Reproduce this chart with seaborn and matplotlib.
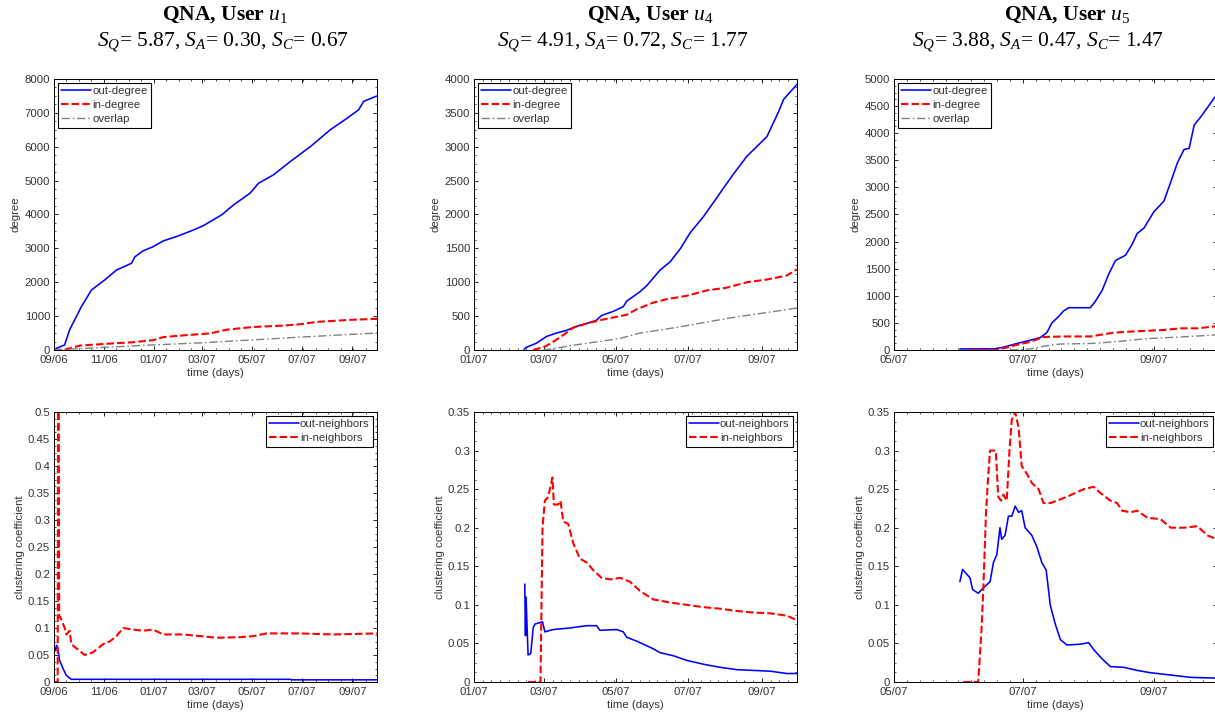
import numpy as np
import pandas as pd
import matplotlib
matplotlib.use("Agg")
import matplotlib.pyplot as plt
import matplotlib.dates as mdates
from matplotlib.ticker import MultipleLocator, AutoMinorLocator, FuncFormatter
import seaborn as sns

# ---------------- data (day offsets from each panel's start date) ----------------
U1_START = "2006-09-01"
U1_END = "2007-10-01"
U1_OUT_DAYS = [0, 13, 19, 33.5, 45.8, 62.1, 76.4, 94.8, 98.9, 109.1, 121.3, 133.6, 149.9, 170.3,
               182.6, 205.1, 219.4, 239.8, 250, 268.4, 288.8, 313.3, 337.8, 358.3, 372.5, 378.7, 395]
U1_OUT_VALS = [20, 150, 590, 1280, 1770, 2070, 2360, 2560, 2750, 2930, 3050, 3220, 3350, 3540,
               3670, 3990, 4280, 4630, 4920, 5170, 5560, 6000, 6500, 6840, 7090, 7340, 7500]
U1_IN_DAYS = [0, 13, 31.5, 62.1, 96.8, 121.3, 133.6, 162.2, 190.8, 211.2, 243.9, 280.6, 301.1, 321.5, 362.3, 395]
U1_IN_VALS = [0, 10, 130, 180, 230, 290, 380, 440, 490, 600, 680, 720, 760, 830, 890, 920]
U1_OV_DAYS = [0, 31.5, 62.1, 121.3, 178.5, 243.9, 301.1, 362.3, 395]
U1_OV_VALS = [0, 40, 80, 150, 210, 300, 380, 460, 500]
U1_CCOUT_DAYS = [0.8, 2, 3.3, 4.9, 6.9, 11, 15.1, 21.2, 288.8, 290.8, 395]
U1_CCOUT_VALS = [0.065, 0.058, 0.068, 0.06, 0.04, 0.025, 0.012, 0.005, 0.005, 0.004, 0.004]
U1_CCIN_DAYS = [0, 4.5, 5.0, 5.6, 6.3, 7.8, 13.1, 15.1, 19.2, 21.2, 25.3, 37.6, 47.8, 60, 68.2, 76.4,
                84.6, 96.8, 109.1, 121.3, 133.6, 158.1, 178.5, 198.9, 227.5, 243.9, 260.2, 301.1, 341.9, 395]
U1_CCIN_VALS = [0, 0, 0.6, 0.6, 0.12, 0.12, 0.1, 0.088, 0.095, 0.07, 0.065, 0.05, 0.055, 0.07, 0.075, 0.085,
                0.1, 0.097, 0.095, 0.097, 0.088, 0.088, 0.085, 0.082, 0.083, 0.085, 0.09, 0.09, 0.088, 0.09]

U4_START = "2007-01-01"
U4_END = "2007-10-01"
U4_OUT_DAYS = [42.3, 44.3, 52.8, 61.3, 69.7, 78.2, 86.7, 95.1, 103.6, 107.8, 117.7, 126.2, 129, 140.3,
               146, 157.3, 165.7, 174.2, 182.7, 194, 205.3, 210.9, 219.4, 230.7, 247.6, 257.5, 261.7, 273]
U4_OUT_VALS = [10, 40, 100, 200, 250, 290, 350, 390, 440, 510, 570, 640, 720, 860,
               950, 1180, 1300, 1490, 1730, 1970, 2250, 2390, 2600, 2860, 3150, 3520, 3700, 3920]
U4_IN_DAYS = [50, 59.9, 66.9, 75.4, 83.9, 95.1, 106.4, 117.7, 129, 137.5, 151.6, 162.9, 179.8, 196.8,
              213.7, 230.7, 247.6, 264.5, 273]
U4_IN_VALS = [0, 50, 120, 220, 330, 390, 440, 480, 520, 600, 700, 750, 800, 880, 920, 1000, 1040, 1100, 1190]
U4_OV_DAYS = [58.4, 66.9, 83.9, 103.6, 123.4, 140.3, 162.9, 179.8, 202.4, 222.2, 250.4, 273]
U4_OV_VALS = [0, 20, 70, 120, 170, 250, 310, 360, 430, 490, 560, 620]
U4_CCOUT_DAYS = [42.9, 43.5, 44, 45.7, 48, 50, 51.4, 55.6, 57.9, 59.9, 66.9, 81, 95.1, 103.6, 106.4,
                 120.6, 126.2, 129, 137.5, 151.6, 157.3, 168.5, 179.8, 194, 208.1, 222.2, 236.3, 250.4, 264.5, 273]
U4_CCOUT_VALS = [0.127, 0.06, 0.11, 0.035, 0.037, 0.07, 0.075, 0.077, 0.078, 0.065, 0.068, 0.07, 0.073,
                 0.073, 0.067, 0.068, 0.065, 0.058, 0.053, 0.043, 0.038, 0.034, 0.028, 0.023, 0.019,
                 0.016, 0.015, 0.014, 0.011, 0.011]
U4_CCIN_DAYS = [45.7, 56.2, 57.9, 59.9, 62.7, 64.9, 66.3, 67.5, 71.1, 73.1, 75.4, 79.6, 83.9, 89.5, 95.1,
                100.8, 107.8, 114.9, 123.4, 131.8, 140.3, 151.6, 165.7, 179.8, 194, 208.1, 222.2, 236.3,
                250.4, 264.5, 273]
U4_CCIN_VALS = [0, 0, 0.2, 0.235, 0.24, 0.255, 0.265, 0.23, 0.23, 0.235, 0.208, 0.205, 0.18, 0.16, 0.155,
                0.145, 0.135, 0.133, 0.135, 0.13, 0.118, 0.107, 0.103, 0.1, 0.097, 0.095, 0.092, 0.09,
                0.089, 0.086, 0.08]

U5_START = "2007-05-01"
U5_END = "2007-10-01"
U5_OUT_DAYS = [31.2, 47.1, 51.8, 58.2, 64.5, 69.3, 72.4, 74.8, 78, 80.3, 82.7, 93, 95.4, 98.6, 101.7,
               104.9, 107.3, 109.7, 112.8, 115.2, 118.4, 123.1, 127.9, 131.1, 134.2, 137.4, 139.8,
               142.2, 145.3, 151.7, 153]
U5_OUT_VALS = [20, 20, 50, 120, 180, 230, 320, 500, 620, 720, 780, 780, 900, 1100, 1400,
               1650, 1700, 1750, 1950, 2150, 2250, 2550, 2750, 3100, 3450, 3700, 3720,
               4150, 4300, 4650, 4720]
U5_IN_DAYS = [36, 48.7, 56.6, 64.5, 70.8, 80.3, 93, 104.1, 112, 127.9, 135.8, 143.7, 153]
U5_IN_VALS = [0, 0, 80, 150, 240, 250, 250, 320, 340, 370, 400, 400, 440]
U5_OV_DAYS = [55, 64.5, 72.4, 78.8, 93, 104.1, 120, 135.8, 153]
U5_OV_VALS = [0, 20, 80, 110, 120, 150, 210, 240, 280]
U5_CCOUT_DAYS = [31.2, 32.5, 34.4, 36, 37.2, 39.9, 42.3, 45.5, 47.1, 48.7, 50.2, 51, 52.6, 54.2, 55.8,
                 57.4, 59, 60.5, 62.1, 63.7, 65.3, 67.7, 70, 72.1, 74, 76.4, 78.8, 81.9, 88.3, 92.2,
                 94.6, 98.6, 102.5, 108.9, 115.2, 121.6, 131.1, 140.6, 153]
U5_CCOUT_VALS = [0.13, 0.146, 0.14, 0.135, 0.12, 0.115, 0.122, 0.13, 0.155, 0.165, 0.2, 0.185, 0.19,
                 0.215, 0.215, 0.228, 0.22, 0.222, 0.2, 0.195, 0.19, 0.175, 0.155, 0.145, 0.1, 0.075,
                 0.055, 0.048, 0.049, 0.051, 0.042, 0.03, 0.02, 0.019, 0.015, 0.012, 0.009, 0.006, 0.005]
U5_CCIN_DAYS = [32.8, 39.9, 41.5, 42.3, 43.6, 44.7, 45.5, 48.2, 49.4, 50.7, 51.8, 53.4, 54.7, 55.8, 57.4,
                59, 60.5, 62.9, 65.3, 68.5, 70.8, 74, 77.2, 83.5, 89.9, 94.6, 97.8, 102.5, 105.7, 108.1,
                112, 115.2, 120, 126.3, 131.1, 137.4, 143.7, 148.5, 153]
U5_CCIN_VALS = [0, 0, 0.07, 0.12, 0.22, 0.27, 0.3, 0.3, 0.24, 0.235, 0.243, 0.235, 0.3, 0.34, 0.35,
                0.33, 0.28, 0.27, 0.258, 0.25, 0.232, 0.232, 0.235, 0.242, 0.25, 0.253, 0.245, 0.235,
                0.232, 0.222, 0.22, 0.222, 0.213, 0.211, 0.2, 0.2, 0.202, 0.19, 0.185]

TITLES = [r"QNA, User $u_{\mathit{1}}$", r"QNA, User $u_{\mathit{4}}$", r"QNA, User $u_{\mathit{5}}$"]
SUBTITLES = [r"$S_Q$= 5.87, $S_A$= 0.30, $S_C$= 0.67",
             r"$S_Q$= 4.91, $S_A$= 0.72, $S_C$= 1.77",
             r"$S_Q$= 3.88, $S_A$= 0.47, $S_C$= 1.47"]
DEG_LABELS = ["out-degree", "in-degree", "overlap"]
CC_LABELS = ["out-neighbors", "in-neighbors"]
DEG_YMAX = [8000, 4000, 5000]
DEG_YSTEP = [1000, 500, 500]
CC_YMAX = [0.5, 0.35, 0.35]
X_MINOR_DIV = [4, 8, 10]

# ---------------- style ----------------
sns.set_theme(style="ticks")
TXT = "#333333"
FS = 8.2
plt.rcParams.update({
    "font.family": ["Liberation Sans", "DejaVu Sans"],
    "font.size": FS,
    "mathtext.fontset": "custom",
    "mathtext.rm": "Liberation Serif",
    "mathtext.it": "Liberation Serif:italic",
    "mathtext.bf": "Liberation Serif:bold",
    "xtick.direction": "in", "ytick.direction": "in",
    "xtick.top": True, "ytick.right": True,
    "xtick.major.size": 3, "ytick.major.size": 3,
    "xtick.minor.size": 1.6, "ytick.minor.size": 1.6,
    "xtick.major.width": 0.6, "ytick.major.width": 0.6,
    "xtick.minor.width": 0.5, "ytick.minor.width": 0.5,
    "xtick.labelsize": FS, "ytick.labelsize": FS,
    "xtick.color": "black", "ytick.color": "black",
    "xtick.labelcolor": TXT, "ytick.labelcolor": TXT,
    "axes.edgecolor": "black", "axes.linewidth": 0.7,
    "axes.labelcolor": TXT, "axes.labelsize": FS,
    "xtick.major.pad": 3.9, "ytick.major.pad": 2.8,
})

W, H = 1215, 713
fig = plt.figure(figsize=(W / 100, H / 100), dpi=100)

col_left = [54, 474, 894]
ax_w = 323
top_row = (79, 350)
bot_row = (412, 682)

def make_ax(left, ytop, ybot):
    return fig.add_axes([left / W, 1 - ybot / H, ax_w / W, (ybot - ytop) / H])

def series_df(start, days, vals):
    d = pd.to_datetime(start) + pd.to_timedelta(np.asarray(days, dtype=float), unit="D")
    return pd.DataFrame({"date": d, "value": vals})

deg_data = [
    (U1_START, U1_END, [(U1_OUT_DAYS, U1_OUT_VALS), (U1_IN_DAYS, U1_IN_VALS), (U1_OV_DAYS, U1_OV_VALS)],
     [(U1_CCOUT_DAYS, U1_CCOUT_VALS), (U1_CCIN_DAYS, U1_CCIN_VALS)]),
    (U4_START, U4_END, [(U4_OUT_DAYS, U4_OUT_VALS), (U4_IN_DAYS, U4_IN_VALS), (U4_OV_DAYS, U4_OV_VALS)],
     [(U4_CCOUT_DAYS, U4_CCOUT_VALS), (U4_CCIN_DAYS, U4_CCIN_VALS)]),
    (U5_START, U5_END, [(U5_OUT_DAYS, U5_OUT_VALS), (U5_IN_DAYS, U5_IN_VALS), (U5_OV_DAYS, U5_OV_VALS)],
     [(U5_CCOUT_DAYS, U5_CCOUT_VALS), (U5_CCIN_DAYS, U5_CCIN_VALS)]),
]

deg_styles = [dict(color="#0000ff", lw=1.15, ls="-"),
              dict(color="#ff0000", lw=1.5, ls=(0, (3.6, 1.5))),
              dict(color="#808080", lw=1.0, ls=(0, (6.0, 2.0, 1.2, 2.0)))]
cc_styles = [dict(color="#0000ff", lw=1.15, ls="-"),
             dict(color="#ff0000", lw=1.5, ls=(0, (3.6, 1.5)))]

fmt_g = FuncFormatter(lambda v, p: "%g" % round(v, 6))

def style_axis(ax, start, end, xdiv):
    ax.set_xlim(pd.to_datetime(start), pd.to_datetime(end))
    ax.xaxis.set_major_locator(mdates.MonthLocator(bymonth=[1, 3, 5, 7, 9, 11]))
    ax.xaxis.set_major_formatter(mdates.DateFormatter("%m/%y"))
    ax.xaxis.set_minor_locator(AutoMinorLocator(xdiv))
    ax.yaxis.set_minor_locator(AutoMinorLocator(4))
    ax.yaxis.set_major_formatter(fmt_g)
    ax.tick_params(which="both", top=True, right=True)
    ax.set_xlabel("time (days)", labelpad=2.0)
    for s in ax.spines.values():
        s.set_visible(True)

leg_kw = dict(fancybox=False, framealpha=1, edgecolor="black", fontsize=FS,
              handlelength=2.6, handletextpad=0.12, labelspacing=0.35, borderpad=0.3,
              borderaxespad=0.35)

for i, (start, end, degs, ccs) in enumerate(deg_data):
    ax = make_ax(col_left[i], *top_row)
    for (days, vals), lab, st in zip(degs, DEG_LABELS, deg_styles):
        df = series_df(start, days, vals)
        sns.lineplot(data=df, x="date", y="value", ax=ax, color=st["color"], linewidth=st["lw"],
                     linestyle=st["ls"], label=lab, errorbar=None, estimator=None)
    style_axis(ax, start, end, X_MINOR_DIV[i])
    ax.set_ylim(0, DEG_YMAX[i])
    ax.yaxis.set_major_locator(MultipleLocator(DEG_YSTEP[i]))
    ax.set_ylabel("degree", labelpad=3)
    leg = ax.legend(loc="upper left", **leg_kw)
    leg.get_frame().set_linewidth(0.8)
    for t in leg.get_texts():
        t.set_color(TXT)

    ax2 = make_ax(col_left[i], *bot_row)
    for (days, vals), lab, st in zip(ccs, CC_LABELS, cc_styles):
        df = series_df(start, days, vals)
        sns.lineplot(data=df, x="date", y="value", ax=ax2, color=st["color"], linewidth=st["lw"],
                     linestyle=st["ls"], label=lab, errorbar=None, estimator=None)
    style_axis(ax2, start, end, X_MINOR_DIV[i])
    ax2.set_ylim(0, CC_YMAX[i])
    ax2.yaxis.set_major_locator(MultipleLocator(0.05))
    ax2.set_ylabel("clustering coefficient", labelpad=2)
    leg2 = ax2.legend(loc="upper right", **leg_kw)
    leg2.get_frame().set_linewidth(0.8)
    for t in leg2.get_texts():
        t.set_color(TXT)

title_x1 = [225, 650, 1067]
title_x2 = [223, 623, 1038]
for i in range(3):
    fig.text(title_x1[i] / W, 1 - 15 / H, TITLES[i], ha="center", va="center",
             family="Liberation Serif", fontweight="bold", fontsize=15.5, color="black")
    fig.text(title_x2[i] / W, 1 - 42 / H, SUBTITLES[i], ha="center", va="center",
             family="Liberation Serif", fontsize=15.5, color="black")

fig.savefig("out.png", dpi=100)
